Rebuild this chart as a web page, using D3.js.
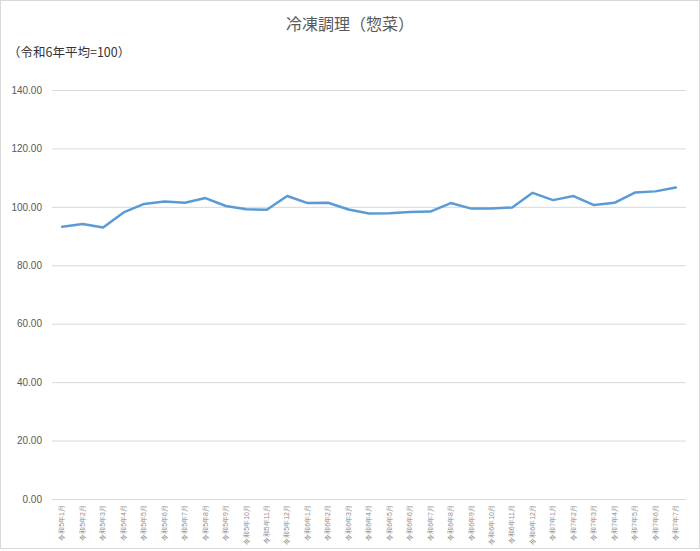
<!DOCTYPE html>
<html>
<head>
<meta charset="utf-8">
<script src="https://cdn.jsdelivr.net/npm/d3@7"></script>
<style>
  body { margin: 0; background: #fff; }
  svg { display: block; font-family: "Noto Sans CJK JP", "Noto Sans", sans-serif; }
</style>
</head>
<body>
<svg width="700" height="551"></svg>
<script>
// 月のラベル（令和5年1月〜令和7年7月）
var months = [
  '令和5年1月','令和5年2月','令和5年3月','令和5年4月','令和5年5月','令和5年6月',
  '令和5年7月','令和5年8月','令和5年9月','令和5年10月','令和5年11月','令和5年12月',
  '令和6年1月','令和6年2月','令和6年3月','令和6年4月','令和6年5月','令和6年6月',
  '令和6年7月','令和6年8月','令和6年9月','令和6年10月','令和6年11月','令和6年12月',
  '令和7年1月','令和7年2月','令和7年3月','令和7年4月','令和7年5月','令和7年6月',
  '令和7年7月'
];
// 指数値（目視で読み取り）
var values = [
  93.2, 94.1, 92.9, 98.1, 101.0, 101.8,
  101.4, 103.0, 100.3, 99.2, 99.0, 103.7,
  101.3, 101.4, 99.1, 97.7, 97.8, 98.2,
  98.4, 101.3, 99.4, 99.4, 99.8, 104.8,
  102.3, 103.7, 100.6, 101.4, 104.9, 105.3,
  106.6
];
var yTicks = [0, 20, 40, 60, 80, 100, 120, 140];

var svg = d3.select('svg');

// 外枠
svg.append('rect')
  .attr('x', 0.5).attr('y', 0.5)
  .attr('width', 699).attr('height', 548)
  .attr('fill', '#fff')
  .attr('stroke', '#d9d9d9');

// 描画領域 (window.top と衝突しない名前で)
var plotL = 52, plotR = 686, plotT = 90, plotB = 499;

var x = d3.scaleBand().domain(months).range([plotL, plotR]);
var y = d3.scaleLinear().domain([0, 140]).range([plotB, plotT]);

svg.append('text')
  .attr('x', 350).attr('y', 30)
  .attr('text-anchor', 'middle')
  .attr('font-size', 16)
  .attr('fill', '#595959')
  .text('冷凍調理（惣菜）');

svg.append('text')
  .attr('x', 8).attr('y', 57)
  .attr('font-size', 12.5)
  .attr('fill', '#333')
  .text('（令和6年平均=100）');

// y軸・グリッド
var yAxis = svg.append('g')
  .attr('transform', 'translate(' + plotL + ',0)')
  .call(d3.axisLeft(y).tickValues(yTicks).tickFormat(d3.format('.2f')).tickSize(-(plotR - plotL)).tickPadding(10));
yAxis.select('.domain').remove();
yAxis.selectAll('.tick line').attr('stroke', '#d9d9d9');
yAxis.selectAll('.tick text').attr('fill', '#595959').attr('font-size', 10)
  .attr('font-family', '"Liberation Sans", Arial, sans-serif');

// x軸
var xAxis = svg.append('g')
  .attr('transform', 'translate(0,' + plotB + ')')
  .call(d3.axisBottom(x).tickSize(0).tickPadding(0));
xAxis.select('.domain').attr('stroke', '#d9d9d9');
xAxis.selectAll('.tick text')
  .attr('fill', '#8c8c8c')
  .attr('font-size', 7)
  .attr('text-anchor', 'end')
  .attr('transform', 'translate(0,6) rotate(-90)')
  .attr('x', 0).attr('y', 0).attr('dy', '0.32em');

// 折れ線
var line = d3.line()
  .x(function(d, i) { return x(months[i]) + x.bandwidth() / 2; })
  .y(function(d) { return y(d); });

svg.append('path')
  .datum(values)
  .attr('d', line)
  .attr('fill', 'none')
  .attr('stroke', '#5b9bd5')
  .attr('stroke-width', 2.5)
  .attr('stroke-linejoin', 'round')
  .attr('stroke-linecap', 'round');
</script>
</body>
</html>
